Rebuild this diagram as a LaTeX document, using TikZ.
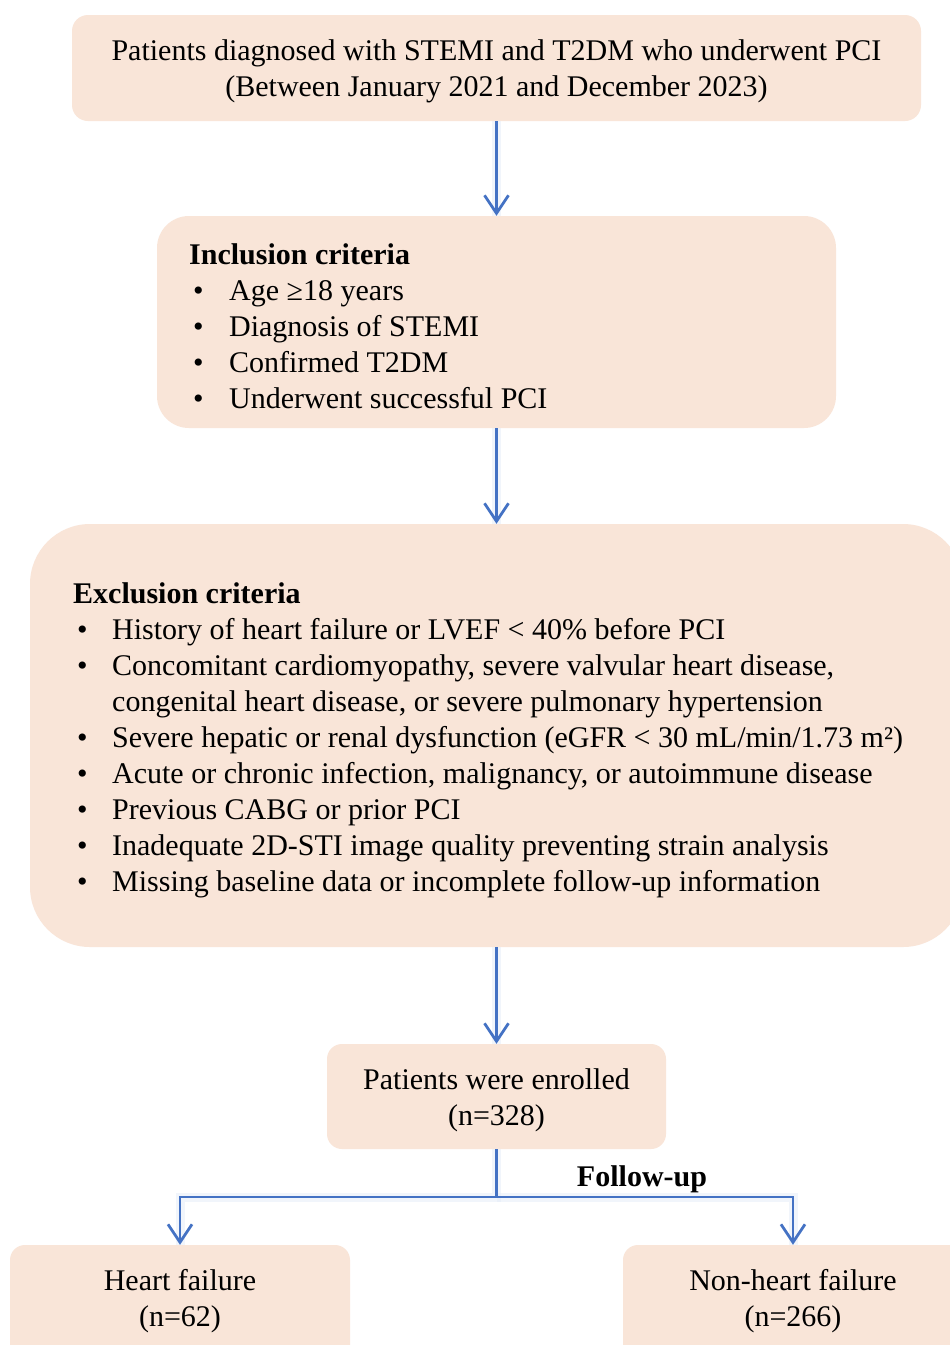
\documentclass[tikz,border=0pt]{standalone}
\usepackage{fontspec}
\setmainfont{Liberation Serif}
\usetikzlibrary{arrows.meta}
\definecolor{boxfill}{HTML}{F9E5D8}
\definecolor{arrowblue}{HTML}{4472C4}
\definecolor{glowblue}{HTML}{E4ECF8}
\newcommand\iblt{\makebox[40pt][l]{\hspace{4pt}\textbullet}}
\newcommand\eblt{\makebox[39pt][l]{\hspace{4pt}\textbullet}}
\begin{document}
\begin{tikzpicture}[x=1pt,y=-1pt,
  box/.style={fill=boxfill, draw=none, inner sep=0pt},
  txt/.style={font=\fontsize{30}{36}\selectfont, inner sep=0pt},
  arr/.style={draw=arrowblue, line width=2.8pt, -{Straight Barb[length=18pt,width=24pt,line width=2.8pt]}},
  glow/.style={draw=glowblue, line width=9pt, opacity=0.5}]
\useasboundingbox (0,0) rectangle (950,1345);
\clip (0,0) rectangle (950,1345);
\fill[white] (0,0) rectangle (950,1345);
% boxes
\node[box, minimum width=849pt, minimum height=106pt, rounded corners=16pt] (b1) at (496.5,68) {};
\node[box, minimum width=679pt, minimum height=212pt, rounded corners=32pt] (b2) at (496.5,322) {};
\node[box, minimum width=933pt, minimum height=423pt, rounded corners=60pt] (b3) at (496.5,735.5) {};
\node[box, minimum width=339pt, minimum height=105pt, rounded corners=15pt] (b4) at (496.5,1096.5) {};
\node[box, minimum width=340pt, minimum height=130pt, rounded corners=15pt] (b5) at (180,1310) {};
\node[box, minimum width=340pt, minimum height=130pt, rounded corners=15pt] (b6) at (793,1310) {};
\coordinate (split) at (496.5,1197);
% glow
\draw[glow] (b1.south) -- (b2.north);
\draw[glow] (b2.south) -- (b3.north);
\draw[glow] (b3.south) -- (b4.north);
\draw[glow] (b4.south) -- (split) -| (b5.north);
\draw[glow] (split) -| (b6.north);
% texts
\node[txt, align=center] (t1) at (496.5,71) {Patients diagnosed with STEMI and T2DM who underwent PCI\\(Between January 2021 and December 2023)};
\node[txt, align=left, anchor=west] (t2) at (189,326) {\textbf{Inclusion criteria}\\
\iblt Age ≥18 years\\
\iblt Diagnosis of STEMI\\
\iblt Confirmed T2DM\\
\iblt Underwent successful PCI};
\node[txt, align=left, anchor=west] (t3) at (73,740) {\textbf{Exclusion criteria}\\
\eblt History of heart failure or LVEF < 40\% before PCI\\
\eblt Concomitant cardiomyopathy, severe valvular heart disease,\\
\hspace*{39pt}congenital heart disease, or severe pulmonary hypertension\\
\eblt Severe hepatic or renal dysfunction (eGFR < 30 mL/min/1.73 m²)\\
\eblt Acute or chronic infection, malignancy, or autoimmune disease\\
\eblt Previous CABG or prior PCI\\
\eblt Inadequate 2D-STI image quality preventing strain analysis\\
\eblt Missing baseline data or incomplete follow-up information};
\node[txt, align=center] (t4) at (496.5,1100.5) {Patients were enrolled\\(n=328)};
\node[txt, align=center] (t5) at (180,1301.5) {Heart failure\\(n=62)};
\node[txt, align=center] (t6) at (793,1301.5) {Non-heart failure\\(n=266)};
\node[txt, font=\fontsize{30}{36}\selectfont\bfseries] (fu) at (642,1179) {Follow-up};
% connectors
\draw[arr] (b1.south) -- (b2.north);
\draw[arr] (b2.south) -- (b3.north);
\draw[arr] (b3.south) -- (b4.north);
\draw[arr] (b4.south) -- (split) -| (b5.north);
\draw[arr] (split) -| (b6.north);
\end{tikzpicture}
\end{document}
